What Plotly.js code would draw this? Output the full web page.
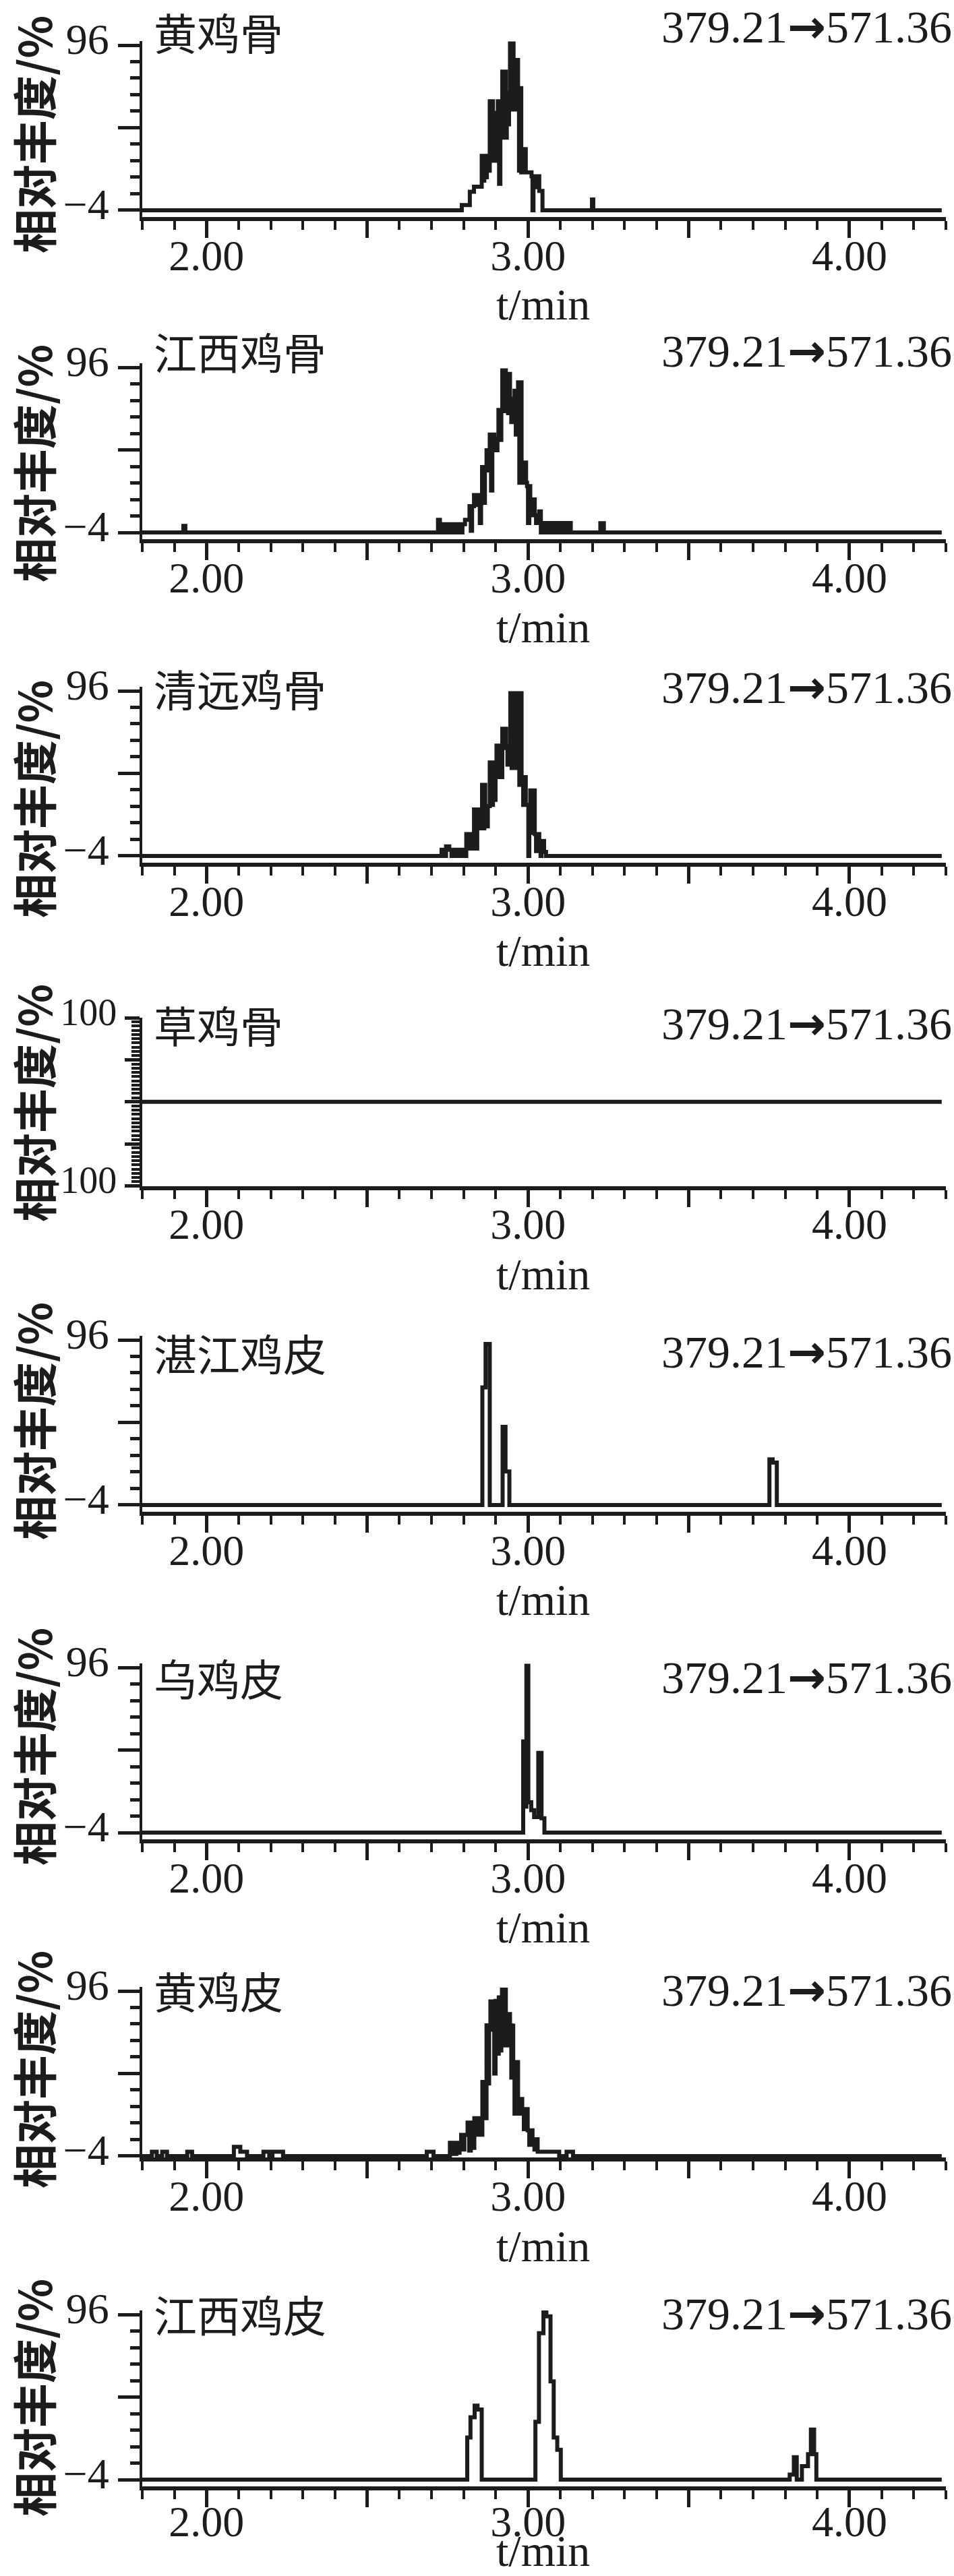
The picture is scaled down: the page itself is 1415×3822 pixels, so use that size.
<!DOCTYPE html>
<html><head><meta charset="utf-8">
<script src="https://cdn.plot.ly/plotly-3.0.1.min.js"></script>
<style>html,body{margin:0;padding:0;background:#fff;} #chart{width:1415px;height:3822px;}</style>
</head><body><div id="chart"></div>
<script>
// ---------- data ----------
const sampleNames = ['黄鸡骨', '江西鸡骨', '清远鸡骨', '草鸡骨', '湛江鸡皮', '乌鸡皮', '黄鸡皮', '江西鸡皮'];
const transitionLabel = '379.21→571.36';
const xAxisTitle = 't/min';
const yAxisTitle = '相对丰度/%';

const xTickVals = [2, 2.5, 3, 3.5, 4];
const xTickText = ['2.00', '', '3.00', '', '4.00'];
const yTickVals = [-4, 46, 96];
const yTickText = ['−4', '', '96'];
const yTickVals4 = [-100, -50, 0, 50, 100];
const yTickText4 = ['-100', '', '', '', '100'];

// 黄鸡骨
const time1 = [1.800, 2.794, 2.819, 2.832, 2.856, 2.860, 2.864, 2.868, 2.872, 2.876, 2.881, 2.884, 2.888, 2.891, 2.894, 2.898, 2.902, 2.906, 2.910, 2.914, 2.918, 2.920, 2.924, 2.928, 2.931, 2.934, 2.937, 2.941, 2.944, 2.948, 2.952, 2.955, 2.958, 2.962, 2.965, 2.969, 2.972, 2.976, 2.979, 2.981, 2.985, 2.989, 2.993, 2.997, 3.011, 3.014, 3.017, 3.021, 3.025, 3.035, 3.045, 3.199, 3.203, 4.287];
const int1  = [-4, -0.8, 7.2, 10.3, 29, 14, 29, 16, 29, 20, 62, 26, 62, 28, 55, 26, 55, 62, 12, 62, 40, 80, 40, 80, 40, 67, 48, 67, 97, 57, 97, 57, 87, 57, 87, 70, 20, 70, 19, 33, 19, 33, 19, 19, 16.6, -4, 16.6, 10, 16.6, 7.7, -4, 2.5, -4, -4];

// 江西鸡骨
const time2 = [1.800, 1.928, 1.934, 2.720, 2.726, 2.732, 2.740, 2.748, 2.756, 2.764, 2.772, 2.780, 2.788, 2.796, 2.804, 2.818, 2.822, 2.826, 2.832, 2.838, 2.842, 2.846, 2.850, 2.854, 2.857, 2.862, 2.866, 2.871, 2.875, 2.878, 2.881, 2.885, 2.889, 2.895, 2.900, 2.905, 2.908, 2.913, 2.917, 2.920, 2.924, 2.928, 2.931, 2.934, 2.938, 2.941, 2.944, 2.948, 2.952, 2.955, 2.958, 2.962, 2.966, 2.969, 2.973, 2.977, 2.980, 2.983, 2.987, 2.991, 2.994, 2.997, 3.000, 3.004, 3.007, 3.011, 3.015, 3.021, 3.025, 3.028, 3.035, 3.040, 3.045, 3.050, 3.055, 3.060, 3.066, 3.072, 3.078, 3.084, 3.090, 3.096, 3.102, 3.108, 3.114, 3.120, 3.126, 3.133, 3.225, 3.236, 4.287];
const int2  = [-4, 0, -4, 3.7, -4, 1, -4, 1, -4, 1, -4, 1, -4, 1, 3.7, 11.9, -3, 11.9, 18.7, 12.6, 18.7, 13.9, 1.7, 13.9, 35.6, 14, 35.6, 45.8, 33.6, 45.8, 55.3, 21.4, 55.3, 52.6, 45.8, 52.6, 70.2, 52, 70.2, 94.2, 69.5, 94.2, 70, 92, 68.2, 92, 77, 62.8, 77, 62.8, 81.8, 55.3, 81.8, 86.9, 26.1, 86.9, 26.1, 38.3, 26.1, 38.3, 26.1, 24.1, 1.7, 24.1, 16, 6.4, 16, 6.4, 1.7, 6.4, 8.8, -4, 1.7, -4, 1.7, -4, 1.7, -4, 1.7, -4, 1.7, -4, 1.7, -4, 1.7, -4, 1.7, -4, 1.6, -4, -4];

// 清远鸡骨
const time3 = [1.800, 2.731, 2.738, 2.745, 2.755, 2.762, 2.768, 2.775, 2.782, 2.790, 2.796, 2.804, 2.808, 2.813, 2.818, 2.824, 2.828, 2.832, 2.837, 2.842, 2.848, 2.852, 2.857, 2.861, 2.864, 2.867, 2.871, 2.875, 2.881, 2.886, 2.891, 2.896, 2.899, 2.902, 2.907, 2.912, 2.916, 2.920, 2.924, 2.928, 2.932, 2.936, 2.940, 2.945, 2.949, 2.953, 2.958, 2.962, 2.966, 2.969, 2.973, 2.977, 2.980, 2.985, 2.990, 2.993, 2.997, 3.001, 3.004, 3.007, 3.011, 3.015, 3.021, 3.025, 3.028, 3.035, 3.039, 3.042, 3.045, 3.050, 3.056, 4.287];
const int3  = [-4, -0.2, -4, 1.8, -0.2, -4, -0.2, -4, -0.2, -4, -0.2, -4, 9.3, 0.5, 9.3, 0.5, 9.3, 24.2, 0.5, 24.2, 12.7, 24.2, 39.1, 12.7, 39.1, 26.2, 14, 26.2, 52.6, 26.9, 52.6, 30, 52.6, 62.8, 43.8, 62.8, 43.8, 73, 61.4, 73, 62.8, 51.3, 62.8, 94.6, 49.3, 94.6, 92.6, 49.3, 92.6, 94.6, 39.1, 94.6, 43.8, 26.9, 43.8, 26.9, 26.9, -4, 26.9, 35.7, 10, 35.7, 9.3, -1, 9.3, 2.5, -4, 2.5, 5.1, -1.6, -4, -4];

// 草鸡骨
const time4 = [1.800, 4.287];
const int4  = [0, 0];

// 湛江鸡皮
const time5 = [1.800, 2.858, 2.868, 2.881, 2.921, 2.930, 2.942, 3.751, 3.761, 3.774, 4.287];
const int5  = [-4, 67.2, 93.6, -4, 43.3, 16.3, -4, 23.7, 21.7, -4, -4];

// 乌鸡皮
const time6 = [1.800, 2.985, 2.991, 2.995, 3.001, 3.010, 3.019, 3.032, 3.042, 3.051, 4.287];
const int6  = [-4, 51.2, 11.7, 97, 14.4, 9.6, 5.4, 44.3, 4.7, -4, -4];

// 黄鸡皮
const time7 = [1.800, 1.830, 1.845, 1.862, 1.877, 1.940, 1.955, 2.085, 2.105, 2.126, 2.177, 2.195, 2.205, 2.238, 2.685, 2.706,
  2.757, 2.762, 2.767, 2.772, 2.777, 2.782, 2.787, 2.792, 2.797, 2.802, 2.812, 2.817, 2.822, 2.827, 2.833, 2.840, 2.846, 2.852, 2.858, 2.864, 2.871, 2.875, 2.879, 2.883, 2.887, 2.891, 2.895, 2.899, 2.903, 2.909, 2.913, 2.917, 2.919, 2.923, 2.927, 2.931, 2.932, 2.937, 2.942, 2.944, 2.948, 2.952, 2.954, 2.958, 2.962, 2.969, 2.973, 2.977, 2.982, 2.987, 2.992, 2.999, 3.004, 3.009, 3.014, 3.020, 3.025, 3.030, 3.097,
  3.120, 3.140, 4.287];
const int7  = [-4, -1.3, -4, -1.3, -4, -1.3, -4, 1.6, -1.3, -4, -1.3, -4, -1.3, -4, -1.3, -4,
  4.1, -2.7, 4.1, -2.7, 4.1, -2, 4.1, 8.9, 0, 8.9, 16.3, -0.6, 16.3, 1, 19, 9, 19, 9, 40.9, 19, 75.2, 40, 75, 89.7, 72.5, 89.7, 46, 90, 58, 92.1, 60, 92, 96.8, 63, 96.8, 63, 82, 63, 82, 75.2, 43.6, 75, 52.9, 21.7, 52.9, 30.6, 21.7, 30.6, 24.5, 12.3, 24.5, 11.6, 2.8, 11.6, 6.2, 0, 6.2, -1.3, -4,
  -1.3, -4, -4];

// 江西鸡皮
const time8 = [1.800, 2.811, 2.821, 2.834, 2.843, 2.856, 3.023, 3.034, 3.048, 3.057, 3.070, 3.080, 3.091, 3.102, 3.814, 3.827, 3.836, 3.852, 3.871, 3.880, 3.890, 3.897, 4.287];
const int8  = [-4, 21.5, 33.8, 40.8, 38.5, -4, 31, 84.7, 97.4, 94.9, 55.5, 21.5, 14.1, -4, -0.9, 9.6, -4, 4.2, 11.4, 26.3, 11.4, -4, -4];

const times = [time1, time2, time3, time4, time5, time6, time7, time8];
const intensities = [int1, int2, int3, int4, int5, int6, int7, int8];

// ---------- layout (pixel geometry) ----------
const W = 1415, H = 3822;
const INK = '#1c1c1c';
const NUMFONT = "'Liberation Serif', 'Times New Roman', serif";
const panelTopTick = [67, 545, 1025, 1510, 1988, 2474, 2954, 3434];
const panelBottomValue = [-8, -8, -8, -100, -8, -8, -5, -8];
const nameCenterY = [46, 520, 1020, 1519, 2006, 2488, 2952, 3432];
const transCenterY = [40, 520, 1020, 1519, 2006, 2488, 2952, 3432];
const xTitleCenterY = [452, 930, 1410, 1890, 2373, 2859, 3332, 3784];
const yTitleCenterY = [200, 688, 1186, 1637, 2109, 2592, 3071, 3558];
const plotLeft = 211, plotRight = 1403;
const ppu = 2.45;

const arrowMarkup = transitionLabel.replace('→', "<span style=\"font-family:'DejaVu Sans';font-weight:bold\">→</span>");

const traces = [];
const layout = {
  width: W, height: H,
  margin: {l: 0, r: 0, t: 0, b: 0},
  paper_bgcolor: '#ffffff', plot_bgcolor: '#ffffff',
  showlegend: false,
  annotations: []
};

for (let i = 0; i < 8; i++) {
  const n = i + 1;
  const xName = n === 1 ? 'xaxis' : 'xaxis' + n;
  const yName = n === 1 ? 'yaxis' : 'yaxis' + n;
  const xRef = n === 1 ? 'x' : 'x' + n;
  const yRef = n === 1 ? 'y' : 'y' + n;
  const T = panelTopTick[i];
  let topPx, botPx, yRange;
  if (i === 3) {
    topPx = T; botPx = T + 249.5; yRange = [-100, 100];
  } else {
    topPx = T - 2.5 * ppu; botPx = T + (96 - panelBottomValue[i]) * ppu; yRange = [panelBottomValue[i], 98.5];
  }
  traces.push({
    type: 'scatter', mode: 'lines',
    x: times[i], y: intensities[i],
    xaxis: xRef, yaxis: yRef,
    line: {color: INK, width: 6, shape: 'hv', simplify: false},
    hoverinfo: 'skip'
  });
  layout[xName] = {
    domain: [plotLeft / W, plotRight / W],
    anchor: yRef,
    range: [1.8, 4.3],
    showgrid: false, zeroline: false,
    showline: true, linewidth: 6, linecolor: INK,
    ticks: 'outside', ticklen: 25, tickwidth: 5, tickcolor: INK,
    tickmode: 'array', tickvals: xTickVals, ticktext: xTickText,
    ticklabelstandoff: i === 7 ? -34 : -29,
    minor: {tickmode: 'linear', tick0: 1.8, dtick: 0.1, ticks: 'outside', ticklen: 13, tickwidth: 4, tickcolor: INK, showgrid: false},
    tickfont: {family: NUMFONT, size: 64, color: INK},
    fixedrange: true
  };
  const yAx = {
    domain: [1 - botPx / H, 1 - topPx / H],
    anchor: xRef,
    range: yRange,
    showgrid: false, zeroline: false,
    showline: true, linewidth: 4.5, linecolor: INK,
    ticks: 'outside', tickwidth: 5, tickcolor: INK,
    tickmode: 'array',
    ticklabelshift: -9,
    fixedrange: true
  };
  if (i === 3) {
    yAx.tickvals = yTickVals4; yAx.ticktext = yTickText4; yAx.ticklen = 22;
    yAx.tickfont = {family: NUMFONT, size: 56, color: INK};
    yAx.minor = {tickmode: 'linear', tick0: -100, dtick: 5, ticks: 'outside', ticklen: 12, tickwidth: 4, tickcolor: INK, showgrid: false};
  } else {
    yAx.tickvals = yTickVals; yAx.ticktext = yTickText; yAx.ticklen = 32;
    yAx.tickfont = {family: NUMFONT, size: 64, color: INK};
    yAx.minor = {tickmode: 'linear', tick0: -4, dtick: 10, ticks: 'outside', ticklen: 14, tickwidth: 5, tickcolor: INK, showgrid: false};
  }
  layout[yName] = yAx;

  // sample name (top-left)
  layout.annotations.push({
    xref: 'paper', yref: 'paper',
    x: 226 / W, y: 1 - nameCenterY[i] / H,
    xanchor: 'left', yanchor: 'middle',
    text: sampleNames[i], showarrow: false,
    font: {family: "'Noto Sans CJK SC', serif", size: 64, color: INK}
  });
  // MRM transition (top-right)
  layout.annotations.push({
    xref: 'paper', yref: 'paper',
    x: 1414 / W, y: 1 - transCenterY[i] / H,
    xanchor: 'right', yanchor: 'middle',
    text: arrowMarkup, showarrow: false,
    font: {family: NUMFONT, size: 68, color: INK}
  });
  // x-axis title
  layout.annotations.push({
    xref: 'paper', yref: 'paper',
    x: 805 / W, y: 1 - xTitleCenterY[i] / H,
    xanchor: 'center', yanchor: 'middle',
    text: xAxisTitle, showarrow: false,
    font: {family: NUMFONT, size: 66, color: INK}
  });
  // y-axis title (rotated)
  layout.annotations.push({
    xref: 'paper', yref: 'paper',
    x: 48 / W, y: 1 - yTitleCenterY[i] / H,
    xanchor: 'center', yanchor: 'middle',
    textangle: -90,
    text: yAxisTitle, showarrow: false,
    font: {family: "'Noto Sans CJK SC', sans-serif", size: 66, color: INK, weight: 'bold'}
  });
}

Plotly.newPlot('chart', traces, layout, {displayModeBar: false, staticPlot: true});
</script>
</body></html>
